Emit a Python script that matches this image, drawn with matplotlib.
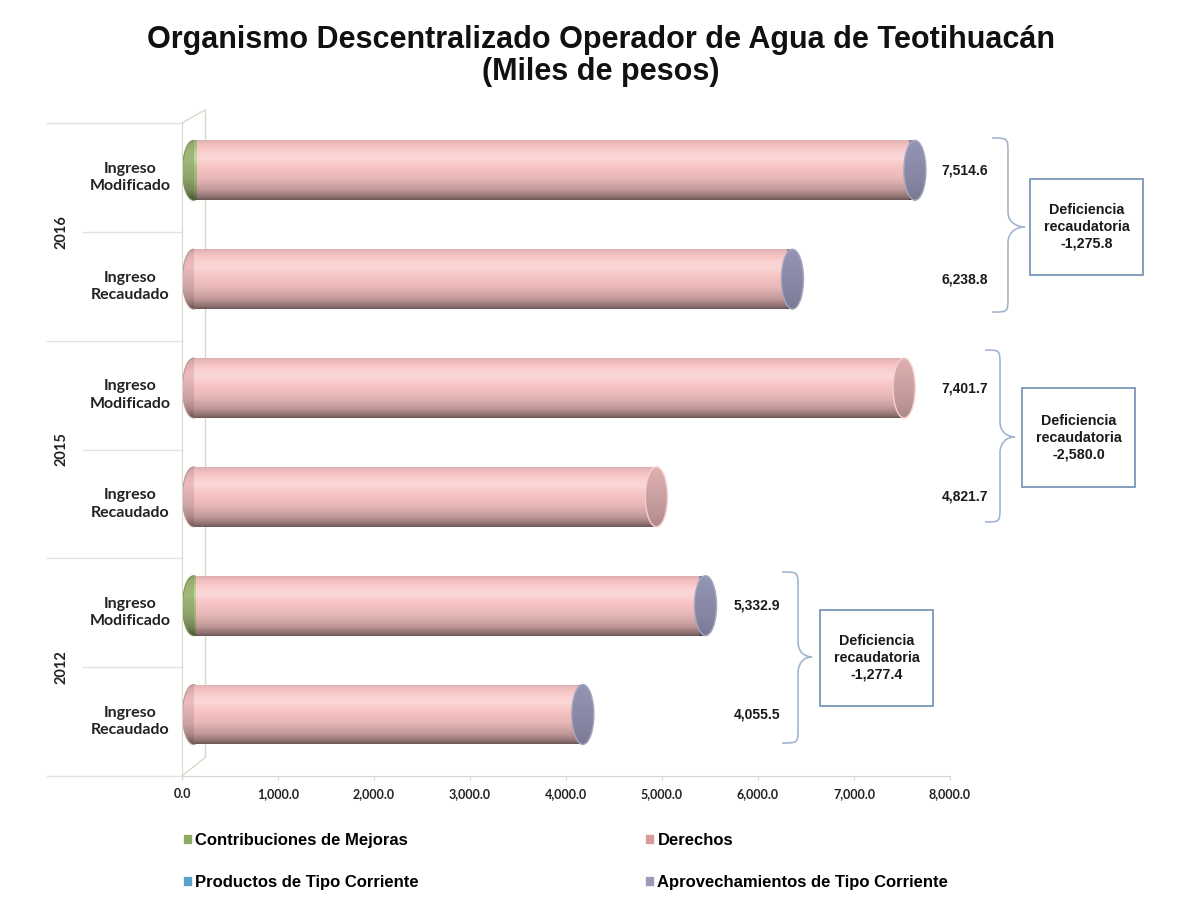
import numpy as np
import matplotlib
matplotlib.use('Agg')
import matplotlib.pyplot as plt
from matplotlib.patches import Ellipse, Rectangle, PathPatch
from matplotlib.path import Path
from matplotlib.colors import to_rgb

# ---------------- data (bottom to top) ----------------
years = ['2012', '2015', '2016']
categories = ['Ingreso\nRecaudado', 'Ingreso\nModificado',
              'Ingreso\nRecaudado', 'Ingreso\nModificado',
              'Ingreso\nRecaudado', 'Ingreso\nModificado']
contribuciones = [0.0, 30.0, 0.0, 0.0, 0.0, 40.0]
derechos = [4005.5, 5232.9, 4821.7, 7401.7, 6178.8, 7414.6]
productos = [0.0, 0.0, 0.0, 0.0, 0.0, 0.0]
aprovechamientos = [50.0, 70.0, 0.0, 0.0, 60.0, 60.0]
totales = [4055.5, 5332.9, 4821.7, 7401.7, 6238.8, 7514.6]
deficiencias = ['-1,277.4', '-2,580.0', '-1,275.8']
series_names = ['Contribuciones de Mejoras', 'Derechos',
                'Productos de Tipo Corriente', 'Aprovechamientos de Tipo Corriente']
xticks = [0, 1000, 2000, 3000, 4000, 5000, 6000, 7000, 8000]
title = 'Organismo Descentralizado Operador de Agua de Teotihuacán\n(Miles de pesos)'

series = [contribuciones, derechos, productos, aprovechamientos]
colors = ['#a9c27e', '#f8c4c4', '#6fb7d0', '#9494b4']
legend_colors = ['#8faa62', '#d89a9a', '#5aa0c8', '#9a9ab8']

# ---------------- style constants ----------------
W, H = 1202, 907
fig = plt.figure(figsize=(W / 100, H / 100), dpi=100)
ax = fig.add_axes([182 / W, 1 - 776 / H, 768 / W, 653 / H])
ax.set_xlim(0, 8000)
ax.set_ylim(-0.5, 5.5)

bar_h = 0.55
dy = 0.065      # 3D depth shift (up)
dx = 120.0      # 3D depth shift (right)
cap_w = 230.0   # ellipse width of end caps in data units

def shade(base, f, white=0.55):
    c = np.array(to_rgb(base))
    if f <= 1:
        return c * f
    return c + (1 - c) * min(1.0, (f - 1) * white / 0.1)

prof_t = np.array([0.0, 0.05, 0.16, 0.35, 0.55, 0.7, 0.8, 0.92, 1.0])
prof_f = np.array([0.45, 0.58, 0.77, 0.93, 1.0, 1.06, 1.04, 0.98, 0.9])

def grad_array(base, profile_t, profile_f, n=120):
    t = np.linspace(0, 1, n)
    f = np.interp(t, profile_t, profile_f)
    arr = np.array([shade(base, v) for v in f])
    return arr[:, None, :]

def fill_gradient(patch, base, extent, pt=prof_t, pf=prof_f, z=2):
    patch.set_facecolor('none')
    patch.set_edgecolor('none')
    patch.set_zorder(z)
    ax.add_patch(patch)
    im = ax.imshow(grad_array(base, pt, pf), extent=extent, origin='lower',
                   aspect='auto', interpolation='bilinear', zorder=z)
    im.set_clip_path(patch)

positions = np.arange(len(categories))
for i, pos in enumerate(positions):
    yc = pos + dy
    vals = [s[i] for s in series]
    nz = [k for k, v in enumerate(vals) if v > 0]
    first, last = nz[0], nz[-1]
    # left rounded end
    e = Ellipse((dx, yc), cap_w, bar_h)
    fill_gradient(e, colors[first], [dx - cap_w / 2, dx + cap_w / 2, yc - bar_h / 2, yc + bar_h / 2],
                  pf=prof_f * 0.9, z=2)
    ax.add_patch(Ellipse((dx, yc), cap_w, bar_h, facecolor='none',
                         edgecolor=shade(colors[first], 0.75), lw=0.8, zorder=2))
    left = 0.0
    for k, v in enumerate(vals):
        if v <= 0:
            continue
        r = Rectangle((left + dx, yc - bar_h / 2), v, bar_h)
        fill_gradient(r, colors[k], [left + dx, left + dx + v, yc - bar_h / 2, yc + bar_h / 2], z=3)
        left += v
    # right end cap
    cap_base = colors[last]
    cap_pt = np.array([0.0, 0.3, 0.7, 1.0])
    cap_pf = np.array([0.7, 0.78, 0.85, 0.9]) if last == 1 else np.array([0.82, 0.9, 0.96, 1.0])
    e2 = Ellipse((left + dx, yc), cap_w, bar_h)
    fill_gradient(e2, cap_base, [left + dx - cap_w / 2, left + dx + cap_w / 2, yc - bar_h / 2, yc + bar_h / 2],
                  pt=cap_pt, pf=cap_pf, z=4)
    ax.add_patch(Ellipse((left + dx, yc), cap_w, bar_h, facecolor='none',
                         edgecolor=shade(cap_base, 1.03), lw=1.0, zorder=4))

ax.set_ylim(-0.5, 5.5)
ax.set_xlim(0, 8000)

# axes styling
for s in ['top', 'right']:
    ax.spines[s].set_visible(False)
ax.spines['left'].set_color('#d6dac8')
ax.spines['bottom'].set_color('#d4d4d4')
ax.set_yticks([])
ax.set_xticks(xticks)
ax.set_xticklabels([f'{v:,.1f}' for v in xticks], fontfamily=['Lato', 'DejaVu Sans'],
                   fontweight='bold', fontsize=9, color='#222222')
ax.tick_params(axis='x', length=3, color='#d4d4d4', pad=6)

# back wall lines (3D frame)
wall_x = 240.0
ax.plot([0, wall_x], [-0.5, -0.33], color='#d6dac8', lw=1, clip_on=False, zorder=1)
ax.plot([wall_x, wall_x], [-0.33, 5.62], color='#d6dac8', lw=1, clip_on=False, zorder=1)
ax.plot([0, wall_x], [5.5, 5.62], color='#d6dac8', lw=1, clip_on=False, zorder=1)

# category labels and separators
ytr = ax.get_yaxis_transform()
for pos, lab in zip(positions, categories):
    ax.text(-0.068, pos, lab, transform=ytr, ha='center', va='center',
            fontfamily=['Lato', 'DejaVu Sans'], fontweight='bold', fontsize=11.5,
            color='#222222', linespacing=1.3)
for g, yr in enumerate(years):
    ax.text(-0.157, 2 * g + 0.5, yr, transform=ytr, ha='center', va='center', rotation=90,
            fontfamily=['Lato', 'DejaVu Sans'], fontweight='bold', fontsize=10.5, color='#222222')
for b in [-0.5, 1.5, 3.5, 5.5]:
    ax.plot([-0.176, 0], [b, b], transform=ytr, color='#e2e2e2', lw=1, clip_on=False)
for b in [0.5, 2.5, 4.5]:
    ax.plot([-0.129, 0], [b, b], transform=ytr, color='#e2e2e2', lw=1, clip_on=False)

# value labels
label_x = [5990, 5990, 8156, 8156, 8156, 8156]
for pos, tot, lx in zip(positions, totales, label_x):
    ax.text(lx, pos + dy, f'{tot:,.1f}', ha='center', va='center', fontsize=10,
            fontweight='bold', fontfamily=['Liberation Sans', 'DejaVu Sans'],
            color='#1a1a1a', clip_on=False)

# braces
def brace(x_end, x_sp, x_tip, y_top, y_bot, y_mid):
    r = 0.14
    verts = [(x_end, y_top),
             (x_sp, y_top), (x_sp, y_top), (x_sp, y_top - r),
             (x_sp, y_mid + r),
             (x_sp, y_mid), (x_tip, y_mid), (x_tip, y_mid),
             (x_sp, y_mid), (x_sp, y_mid - r), (x_sp, y_mid - r),
             (x_sp, y_bot + r),
             (x_sp, y_bot), (x_sp, y_bot), (x_end, y_bot)]
    codes = [Path.MOVETO,
             Path.CURVE4, Path.CURVE4, Path.CURVE4,
             Path.LINETO,
             Path.CURVE4, Path.CURVE4, Path.CURVE4,
             Path.CURVE4, Path.CURVE4, Path.CURVE4,
             Path.LINETO,
             Path.CURVE4, Path.CURVE4, Path.CURVE4]
    ax.add_patch(PathPatch(Path(verts, codes), facecolor='none', edgecolor='#a3b6cd',
                           lw=1.2, clip_on=False, zorder=5))

brace_specs = [(6250, 6417, 6563, 1.374, -0.197, 0.593),
               (8365, 8521, 8677, 3.414, 1.834, 2.615),
               (8438, 8604, 8781, 5.362, 3.763, 4.544)]
box_specs = [(6646, 7823, 0.143, 1.025),
             (8750, 9927, 2.155, 3.065),
             (8833, 10010, 4.103, 4.985)]
for bs in brace_specs:
    brace(*bs)
for (x0, x1, y0, y1), d in zip(box_specs, deficiencias):
    ax.add_patch(Rectangle((x0, y0), x1 - x0, y1 - y0, facecolor='white',
                           edgecolor='#7b97bb', lw=1.3, clip_on=False, zorder=5))
    ax.text((x0 + x1) / 2, (y0 + y1) / 2, f'Deficiencia\nrecaudatoria\n{d}', ha='center',
            va='center', fontsize=10.3, fontweight='bold', linespacing=1.25,
            fontfamily=['Liberation Sans', 'DejaVu Sans'], color='#1a1a1a',
            clip_on=False, zorder=6)

# title
fig.text(0.5, 1 - 56 / H, title, ha='center', va='center', fontsize=22, fontweight='bold',
         fontfamily=['Liberation Sans', 'DejaVu Sans'], linespacing=1.06, color='#111111')

# legend
handles = [Rectangle((0, 0), 1, 1, facecolor=c, edgecolor='white', lw=0.5) for c in legend_colors]
order = [0, 2, 1, 3]
leg = fig.legend([handles[k] for k in order], [series_names[k] for k in order],
                 ncol=2, loc='upper left', bbox_to_anchor=(168 / W, 1 - 818 / H),
                 frameon=False, handlelength=0.55, handleheight=0.55, handletextpad=0.2,
                 columnspacing=13.55, labelspacing=1.62,
                 prop={'family': ['Liberation Sans Narrow', 'Liberation Sans'],
                       'weight': 'bold', 'size': 12})

fig.savefig('out.png', dpi=100, facecolor='white')
